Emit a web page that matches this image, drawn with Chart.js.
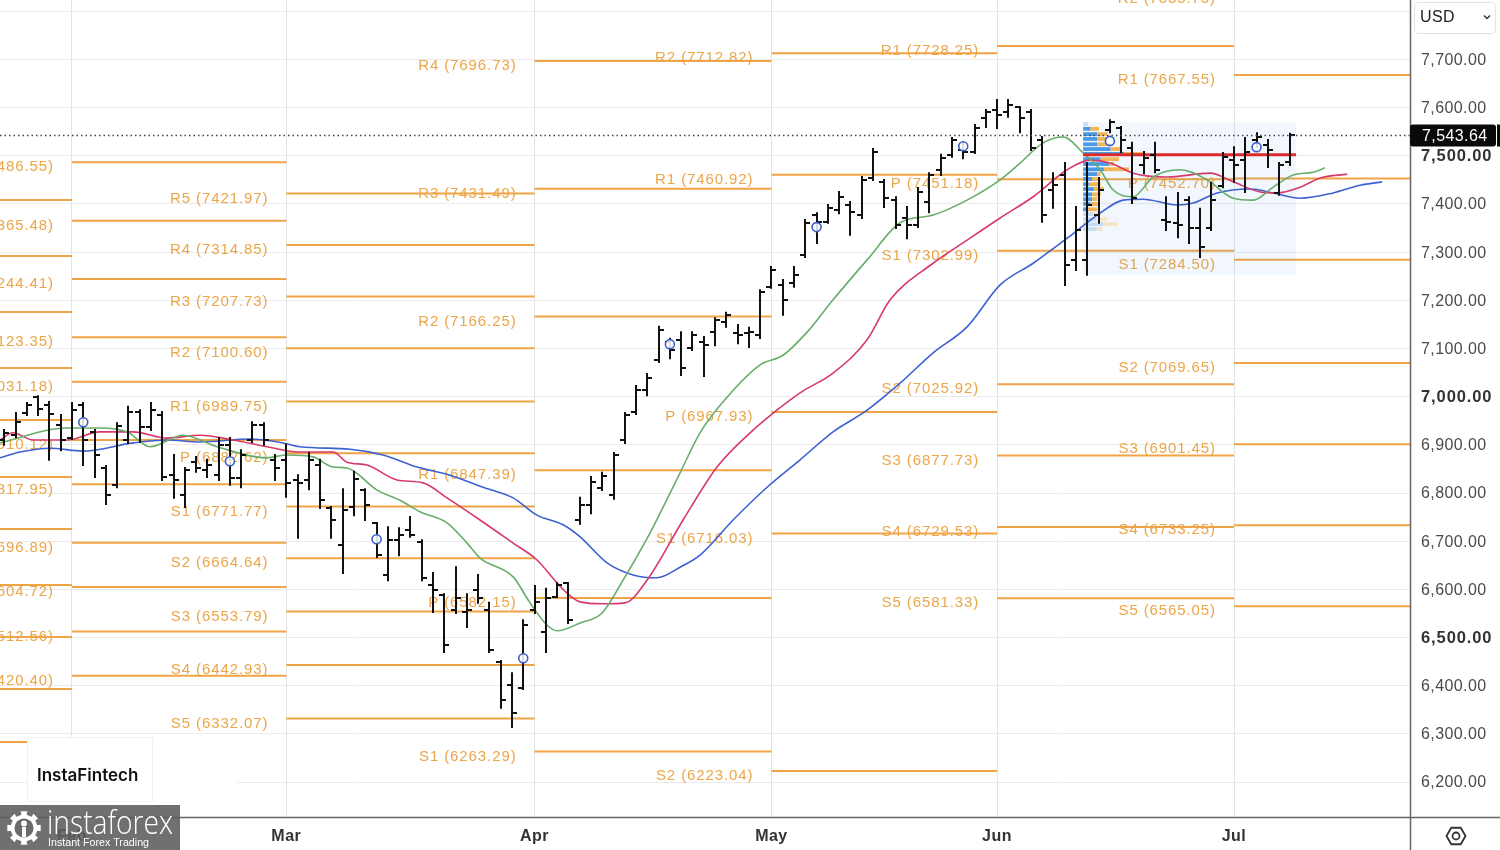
<!DOCTYPE html>
<html>
<head>
<meta charset="utf-8">
<script src="https://cdn.jsdelivr.net/npm/chart.js@4.4.1/dist/chart.umd.min.js"></script>
<style>
  html, body { margin: 0; padding: 0; background: #fff; }
  #wrap { width: 1500px; height: 850px; }
</style>
</head>
<body>
<div id="wrap"><canvas id="priceChart" width="1500" height="850"></canvas></div>
<script>
'use strict';

// x values are trading-session indexes, 0 = first session of February
const xMin = -6.38;
const xMax = 118.6;
const yMin = 6127.4;
const yMax = 7823.5;
const priceTicks = [6200, 6300, 6400, 6500, 6600, 6700, 6800, 6900, 7000, 7100, 7200, 7300, 7400, 7500, 7600, 7700, 7800];

const monthStarts = [-20, 0, 19, 41, 62, 82, 103, 125];
const monthNames = ['Jan', 'Feb', 'Mar', 'Apr', 'May', 'Jun', 'Jul', 'Aug'];

// monthly pivot levels, one table per month block
const pivJan = [['R5', 7408.30], ['R4', 7292.00], ['R3', 7175.80], ['R2', 7059.50], ['R1', 6951.60], ['P', 6833.30],
  ['S1', 6725.30], ['S2', 6609.00], ['S3', 6501.00], ['S4', 6393.00], ['S5', 6283.00]];
const pivFeb = [['R5', 7486.55], ['R4', 7365.48], ['R3', 7244.41], ['R2', 7123.35], ['R1', 7031.18], ['P', 6910.12],
  ['S1', 6817.95], ['S2', 6696.89], ['S3', 6604.72], ['S4', 6512.56], ['S5', 6420.40]];
const pivMar = [['R5', 7421.97], ['R4', 7314.85], ['R3', 7207.73], ['R2', 7100.60], ['R1', 6989.75], ['P', 6882.62],
  ['S1', 6771.77], ['S2', 6664.64], ['S3', 6553.79], ['S4', 6442.93], ['S5', 6332.07]];
const pivApr = [['R4', 7696.73], ['R3', 7431.49], ['R2', 7166.25], ['R1', 6847.39], ['P', 6582.15], ['S1', 6263.29]];
const pivMay = [['R2', 7712.82], ['R1', 7460.92], ['P', 6967.93], ['S1', 6716.03], ['S2', 6223.04]];
const pivJun = [['R1', 7728.25], ['P', 7451.18], ['S1', 7302.99], ['S2', 7025.92], ['S3', 6877.73], ['S4', 6729.53], ['S5', 6581.33]];
const pivJul = [['R2', 7835.75], ['R1', 7667.55], ['P', 7452.70], ['S1', 7284.50], ['S2', 7069.65], ['S3', 6901.45],
  ['S4', 6733.25], ['S5', 6565.05]];
const pivotTables = [pivJan, pivFeb, pivMar, pivApr, pivMay, pivJun, pivJul];

// daily OHLC, first bar at index barFirst
const barFirst = -6;
const barOpen = [6910, 6920, 6966, 6999, 6983, 6941, 6914, 6983, 6927, 6852, 6817, 6910, 6968, 6937, 6962, 6837, 6796, 6864,
  6848, 6837, 6900, 6831, 6910, 6941, 6869, 6869, 6827, 6827, 6858, 6769, 6692, 6771, 6806, 6738, 6630, 6702, 6723, 6698,
  6609, 6588, 6557, 6553, 6599, 6557, 6449, 6401, 6395, 6557, 6511, 6584, 6613, 6744, 6775, 6810, 6796, 6910, 6968, 7014,
  7076, 7114, 7118, 7101, 7114, 7134, 7155, 7132, 7132, 7128, 7228, 7232, 7236, 7294, 7377, 7363, 7387, 7398, 7377, 7454,
  7446, 7408, 7371, 7356, 7404, 7471, 7502, 7512, 7508, 7579, 7595, 7591, 7601, 7591, 7533, 7429, 7460, 7284, 7284, 7377,
  7554, 7558, 7516, 7481, 7502, 7367, 7361, 7408, 7350, 7350, 7437, 7491, 7491, 7533, 7522, 7423, 7487];
const barHigh = [6931, 6966, 6987, 7001, 6989, 6962, 6987, 6987, 6931, 6856, 6945, 6979, 6972, 6987, 6968, 6879, 6852, 6875,
  6869, 6914, 6914, 6889, 6947, 6945, 6879, 6900, 6837, 6883, 6869, 6771, 6808, 6844, 6808, 6738, 6729, 6727, 6750, 6702,
  6634, 6590, 6646, 6590, 6630, 6572, 6451, 6426, 6536, 6607, 6601, 6613, 6613, 6790, 6833, 6842, 6883, 6966, 7022, 7047,
  7145, 7120, 7134, 7134, 7124, 7163, 7174, 7149, 7143, 7221, 7269, 7242, 7269, 7367, 7381, 7398, 7425, 7404, 7456, 7514,
  7450, 7414, 7394, 7433, 7464, 7502, 7537, 7527, 7564, 7595, 7616, 7616, 7601, 7595, 7539, 7464, 7485, 7394, 7485, 7454,
  7574, 7560, 7527, 7508, 7527, 7414, 7423, 7414, 7390, 7444, 7506, 7518, 7537, 7547, 7533, 7485, 7546];
const barLow = [6900, 6916, 6962, 6962, 6869, 6889, 6912, 6858, 6833, 6777, 6812, 6904, 6906, 6931, 6827, 6790, 6771, 6844,
  6833, 6827, 6817, 6812, 6906, 6900, 6827, 6792, 6707, 6808, 6769, 6707, 6634, 6754, 6744, 6667, 6619, 6671, 6709, 6619,
  6553, 6470, 6551, 6522, 6572, 6470, 6354, 6314, 6393, 6551, 6470, 6584, 6530, 6736, 6758, 6806, 6788, 6904, 6964, 7003,
  7072, 7080, 7045, 7097, 7043, 7107, 7145, 7111, 7103, 7122, 7226, 7170, 7228, 7290, 7319, 7361, 7381, 7336, 7371, 7450,
  7394, 7350, 7329, 7352, 7383, 7460, 7498, 7495, 7506, 7560, 7558, 7581, 7549, 7512, 7363, 7392, 7232, 7263, 7253, 7361,
  7549, 7508, 7402, 7464, 7466, 7346, 7331, 7319, 7290, 7346, 7435, 7446, 7425, 7518, 7477, 7419, 7481];
const barClose = [6925, 6947, 6983, 6974, 6964, 6910, 6972, 6910, 6879, 6796, 6939, 6968, 6937, 6972, 6833, 6827, 6848, 6852,
  6858, 6900, 6831, 6879, 6941, 6910, 6852, 6821, 6821, 6869, 6785, 6744, 6765, 6829, 6775, 6671, 6702, 6713, 6713, 6624,
  6599, 6484, 6582, 6557, 6582, 6474, 6370, 6343, 6526, 6574, 6582, 6609, 6536, 6775, 6823, 6835, 6879, 6962, 7014, 7039,
  7138, 7097, 7060, 7128, 7107, 7159, 7170, 7128, 7134, 7217, 7263, 7201, 7253, 7361, 7363, 7392, 7415, 7383, 7450, 7508,
  7412, 7356, 7356, 7425, 7460, 7495, 7533, 7508, 7558, 7591, 7585, 7605, 7579, 7516, 7377, 7439, 7273, 7346, 7398, 7429,
  7570, 7533, 7412, 7495, 7470, 7363, 7356, 7350, 7311, 7408, 7497, 7481, 7508, 7539, 7512, 7481, 7543.64];
const lastPrice = 7543.64;

// alligator lines: [index, price]
const jawLine = [[-6.38, 6873], [-4.61, 6885], [-1.95, 6893], [0.98, 6887], [5.41, 6904], [8.42, 6910], [11.35, 6906],
  [15.78, 6912], [18.71, 6904], [20.21, 6896], [24.65, 6891], [27.57, 6879], [30.59, 6854], [33.51, 6837], [36.44, 6812],
  [39.1, 6790], [41.22, 6754], [43.53, 6734], [45.04, 6709], [47.43, 6655], [49.73, 6630], [51.86, 6624], [53.9, 6646],
  [55.67, 6671], [58.6, 6744], [61.61, 6812], [64.54, 6869], [67.46, 6927], [70.48, 6972], [73.4, 7028], [76.33, 7091],
  [79.34, 7145], [82.27, 7232], [85.2, 7277], [88.21, 7329], [91.13, 7381], [93.17, 7408], [94.95, 7410], [97.96, 7398],
  [99.38, 7402], [101.51, 7423], [104.43, 7431], [106.47, 7423], [108.87, 7412], [111.79, 7423], [114.18, 7439], [116.13, 7446]];
const teethLine = [[-6.38, 6910], [-5.23, 6925], [-3.46, 6910], [-0.44, 6910], [2.48, 6927], [5.41, 6927], [8.42, 6914],
  [11.35, 6920], [14.27, 6910], [17.29, 6896], [20.21, 6885], [23.14, 6885], [24.38, 6864], [26.15, 6858], [28.81, 6827],
  [31.12, 6821], [33.24, 6790], [36.17, 6744], [39.1, 6696], [41.22, 6661], [43.0, 6613], [43.88, 6592], [45.04, 6574],
  [47.07, 6570], [49.02, 6572], [50.97, 6619], [54.17, 6744], [57.18, 6854], [60.11, 6925], [62.15, 6966], [64.54, 7008],
  [67.46, 7049], [70.48, 7118], [72.52, 7201], [76.33, 7277], [79.34, 7325], [82.27, 7371], [85.2, 7415], [88.21, 7471],
  [90.25, 7491], [92.02, 7485], [94.06, 7464], [97.07, 7456], [100.89, 7464], [102.93, 7446], [105.32, 7425], [106.83, 7423],
  [108.87, 7435], [110.64, 7454], [113.03, 7462]];
const lipsLine = [[-6.38, 6904], [-0.44, 6935], [2.48, 6935], [4.88, 6927], [6.91, 6896], [9.84, 6920], [12.85, 6896],
  [17.29, 6873], [19.06, 6879], [21.37, 6875], [23.14, 6854], [24.38, 6852], [27.04, 6806], [29.08, 6785], [30.85, 6761],
  [33.24, 6738], [35.02, 6696], [36.17, 6665], [39.1, 6626], [40.6, 6572], [42.1, 6526], [43.0, 6514], [45.04, 6530],
  [46.99, 6551], [48.85, 6619], [51.24, 6717], [53.9, 6842], [55.67, 6925], [58.07, 6999], [61.0, 7066], [63.03, 7086],
  [65.16, 7134], [67.46, 7201], [70.48, 7284], [73.4, 7361], [76.33, 7377], [79.34, 7408], [82.27, 7450], [84.04, 7485],
  [86.08, 7527], [87.85, 7539], [89.63, 7506], [91.13, 7471], [92.29, 7429], [94.06, 7415], [95.83, 7456], [98.23, 7471],
  [100.62, 7450], [102.93, 7412], [104.7, 7408], [106.47, 7435], [108.24, 7460], [110.02, 7466], [111.08, 7475]];

const markIdx = [1, 14, 27, 40, 53, 66, 79, 92, 105];
const markPrice = [6947, 6866, 6704, 6457, 7109, 7352, 7520, 7531, 7518];

// volume profile of the last range
const vpStart = 89.63;
const vpEnd = 108.5;
const vpBoxHigh = 7570;
const vpBoxLow = 7253;
const pocPrice = 7502;
const vpPrices = [7565, 7555, 7544, 7534, 7523, 7513, 7503, 7492, 7482, 7471, 7461, 7451, 7440, 7430, 7419, 7409, 7399,
  7388, 7378, 7367, 7357, 7347];
const vpBuy = [14, 22, 42, 42, 42, 82, 122, 52, 77, 62, 42, 27, 17, 32, 27, 27, 22, 14, 30, 40, 60, 40];
const vpSell = [0, 25, 30, 30, 40, 30, 60, 55, 15, 75, 10, 15, 35, 30, 25, 15, 25, 28, 22, 32, 42, 17];
const vpInArea = [0, 1, 1, 1, 1, 1, 1, 1, 1, 1, 1, 1, 1, 1, 1, 1, 1, 1, 0, 0, 0, 0];

const FONT = '"Liberation Sans", Arial, sans-serif';

function pivotSegments() {
    const pts = [];
    pivotTables.forEach(function(tbl, i) {
        tbl.forEach(function(lv) {
            pts.push({ x: monthStarts[i], y: lv[1] });
            pts.push({ x: monthStarts[i + 1], y: lv[1] });
            pts.push({ x: monthStarts[i + 1], y: null });
        });
    });
    return pts;
}

function toXY(list) {
    return list.map(p => ({ x: p[0], y: p[1] }));
}

function fmt(v) {
    return v.toLocaleString('en-US', { minimumFractionDigits: 2, maximumFractionDigits: 2 });
}

function drawBars(chart) {
    const { ctx, scales: { x, y } } = chart;
    ctx.save();
    ctx.strokeStyle = '#111';
    ctx.lineWidth = 2;
    for (let i = 0; i < barOpen.length; i++) {
        const px = Math.round(x.getPixelForValue(barFirst + i));
        ctx.beginPath();
        ctx.moveTo(px, y.getPixelForValue(barHigh[i]) - 1);
        ctx.lineTo(px, y.getPixelForValue(barLow[i]) + 1);
        const yo = Math.round(y.getPixelForValue(barOpen[i]));
        const yc = Math.round(y.getPixelForValue(barClose[i]));
        ctx.moveTo(px - 5, yo);
        ctx.lineTo(px, yo);
        ctx.moveTo(px, yc);
        ctx.lineTo(px + 5, yc);
        ctx.stroke();
    }
    ctx.restore();
}

function drawProfile(chart) {
    const { ctx, scales: { x, y } } = chart;
    const x0 = x.getPixelForValue(vpStart);
    const x1 = x.getPixelForValue(vpEnd);
    ctx.fillStyle = 'rgba(80, 150, 225, 0.08)';
    ctx.fillRect(x0, y.getPixelForValue(vpBoxHigh), x1 - x0, y.getPixelForValue(vpBoxLow) - y.getPixelForValue(vpBoxHigh));

    const maxVol = Math.max(...vpBuy.map((b, i) => b + vpSell[i]));
    const unit = (x.getPixelForValue(vpStart + 5.4) - x0) / maxVol;
    const half = (vpPrices[0] - vpPrices[1]) / 2;
    vpPrices.forEach(function(p, i) {
        const yt = y.getPixelForValue(p + half);
        const h = y.getPixelForValue(p - half) - yt - 1;
        const wb = vpBuy[i] * unit;
        const ws = vpSell[i] * unit;
        ctx.fillStyle = vpInArea[i] ? '#4b9ae6' : '#c6ddf3';
        ctx.fillRect(x0, yt, wb, h);
        ctx.fillStyle = vpInArea[i] ? '#f3b556' : '#f5e4c6';
        ctx.fillRect(x0 + wb, yt, ws, h);
    });
}

function drawPoc(chart) {
    const { ctx, scales: { x, y } } = chart;
    const yp = y.getPixelForValue(pocPrice);
    ctx.save();
    ctx.strokeStyle = '#dc2a2a';
    ctx.lineWidth = 3;
    ctx.beginPath();
    ctx.moveTo(x.getPixelForValue(vpStart), yp);
    ctx.lineTo(x.getPixelForValue(vpEnd), yp);
    ctx.stroke();
    ctx.restore();
}

function drawPivotLabels(chart) {
    const { ctx, scales: { x, y } } = chart;
    ctx.font = '15px ' + FONT;
    ctx.letterSpacing = '0.9px';
    ctx.fillStyle = '#eca547';
    ctx.textAlign = 'right';
    ctx.textBaseline = 'middle';
    pivotTables.forEach(function(tbl, i) {
        const px = x.getPixelForValue(monthStarts[i]) - 18;
        tbl.forEach(function(lv) {
            ctx.fillText(lv[0] + ' (' + lv[1].toFixed(2) + ')', px, y.getPixelForValue(lv[1]) + 5);
        });
    });
    ctx.letterSpacing = '0px';
}

function drawGear(ctx, cx, cy) {
    ctx.fillStyle = '#fff';
    ctx.beginPath();
    for (let i = 0; i < 16; i++) {
        const a = i * Math.PI / 8;
        const r = (i % 2 === 0) ? 17 : 13.5;
        const a1 = a - Math.PI / 16, a2 = a + Math.PI / 16;
        ctx.lineTo(cx + r * Math.cos(a1), cy + r * Math.sin(a1));
        ctx.lineTo(cx + r * Math.cos(a2), cy + r * Math.sin(a2));
    }
    ctx.closePath();
    ctx.fill();
    ctx.fillStyle = '#6a6a6a';
    ctx.beginPath();
    ctx.arc(cx, cy, 9.5, 0, Math.PI * 2);
    ctx.fill();
    ctx.fillStyle = '#fff';
    ctx.beginPath();
    ctx.arc(cx, cy - 4.5, 3, 0, Math.PI * 2);
    ctx.fill();
    ctx.fillRect(cx - 2, cy - 1, 4, 10);
}

const overlay = {
    id: 'overlay',
    afterDatasetDraw(chart, args) {
        if (args.index !== 0) return;
        const { ctx, chartArea: a } = chart;
        ctx.save();
        ctx.beginPath();
        ctx.rect(a.left, a.top, a.right - a.left, a.bottom - a.top);
        ctx.clip();
        drawPivotLabels(chart);
        drawProfile(chart);
        ctx.restore();
    },
    beforeDatasetDraw(chart, args) {
        if (args.index !== 4) return;
        drawPoc(chart);
        drawBars(chart);
    },
    afterDraw(chart) {
        const { ctx, chartArea: a, scales: { x, y } } = chart;
        ctx.save();

        // last price dotted line
        const yp = Math.round(y.getPixelForValue(lastPrice)) + 0.5;
        ctx.strokeStyle = '#444';
        ctx.lineWidth = 1.3;
        ctx.setLineDash([1.5, 3]);
        ctx.beginPath();
        ctx.moveTo(a.left, yp);
        ctx.lineTo(a.right, yp);
        ctx.stroke();
        ctx.setLineDash([]);

        // axis borders
        ctx.strokeStyle = '#666';
        ctx.lineWidth = 1.5;
        ctx.beginPath();
        ctx.moveTo(0, a.bottom + 0.5);
        ctx.lineTo(1500, a.bottom + 0.5);
        ctx.moveTo(a.right + 0.5, 0);
        ctx.lineTo(a.right + 0.5, 850);
        ctx.stroke();

        // price labels
        ctx.textAlign = 'left';
        ctx.textBaseline = 'middle';
        y.ticks.forEach(function(t) {
            const strong = t.value % 500 === 0;
            ctx.font = (strong ? 'bold 16.5px ' : '16px ') + FONT;
            ctx.letterSpacing = strong ? '0.9px' : '0.4px';
            ctx.fillStyle = strong ? '#333' : '#4a4a4a';
            ctx.fillText(fmt(t.value), a.right + 11, y.getPixelForValue(t.value) + 1);
        });

        // last price tag
        ctx.fillStyle = '#0a0a0a';
        ctx.beginPath();
        ctx.roundRect(a.right, yp - 11, 86, 22, 3);
        ctx.fill();
        ctx.fillRect(1497, yp - 11, 3, 22);
        ctx.fillStyle = '#fff';
        ctx.font = '16px ' + FONT;
        ctx.letterSpacing = '0.4px';
        ctx.fillText(fmt(lastPrice), a.right + 12, yp + 1);

        // currency selector
        ctx.fillStyle = '#fff';
        ctx.strokeStyle = '#e2e2e2';
        ctx.lineWidth = 1;
        ctx.beginPath();
        ctx.roundRect(1414.5, 2.5, 81, 31, 4);
        ctx.fill();
        ctx.stroke();
        ctx.fillStyle = '#222';
        ctx.font = '16px ' + FONT;
        ctx.fillText('USD', 1420, 18);
        ctx.strokeStyle = '#333';
        ctx.lineWidth = 1.5;
        ctx.beginPath();
        ctx.moveTo(1484, 15.5);
        ctx.lineTo(1487, 18.5);
        ctx.lineTo(1490, 15.5);
        ctx.stroke();

        // month labels
        ctx.textAlign = 'center';
        ctx.font = 'bold 16px ' + FONT;
        ctx.letterSpacing = '0.5px';
        ctx.fillStyle = '#333';
        monthStarts.forEach(function(v, i) {
            if (v < xMin || v > xMax) return;
            ctx.fillText(monthNames[i], x.getPixelForValue(v), 837);
        });
        ctx.letterSpacing = '0px';

        // settings icon
        ctx.strokeStyle = '#333';
        ctx.lineWidth = 1.8;
        ctx.beginPath();
        for (let i = 0; i < 6; i++) {
            const ang = i * Math.PI / 3;
            ctx.lineTo(1456 + 9.5 * Math.cos(ang), 836 + 9.5 * Math.sin(ang));
        }
        ctx.closePath();
        ctx.stroke();
        ctx.beginPath();
        ctx.arc(1456, 836, 3.5, 0, Math.PI * 2);
        ctx.stroke();

        // watermark
        ctx.fillStyle = '#fff';
        ctx.fillRect(27, 737, 210, 79);
        ctx.strokeStyle = '#f1f1f1';
        ctx.lineWidth = 1;
        ctx.strokeRect(27.5, 737.5, 125, 64);
        ctx.fillStyle = '#111';
        ctx.textAlign = 'left';
        ctx.font = '600 17px Inter, ' + FONT;
        ctx.fillText('InstaFintech', 37, 776, 104);

        ctx.fillStyle = 'rgba(92, 92, 92, 0.88)';
        ctx.fillRect(0, 805, 180, 45);
        drawGear(ctx, 24, 828);
        ctx.fillStyle = '#fff';
        ctx.textBaseline = 'alphabetic';
        ctx.font = '300 33px "Open Sans", ' + FONT;
        ctx.fillText('instaforex', 47, 834, 126);
        ctx.font = '11px ' + FONT;
        ctx.fillText('Instant Forex Trading', 48, 846, 101);

        ctx.restore();
    }
};

function initChart() {
    const canvas = document.getElementById('priceChart');
    return new Chart(canvas, {
        type: 'line',
        data: {
            datasets: [
                { label: 'pivots', data: pivotSegments(), borderColor: '#f0a445', borderWidth: 2, pointRadius: 0, spanGaps: false, order: 10 },
                { label: 'jaw', data: toXY(jawLine), borderColor: '#3c61d2', borderWidth: 1.6, pointRadius: 0, cubicInterpolationMode: 'monotone', order: 7 },
                { label: 'teeth', data: toXY(teethLine), borderColor: '#d8386a', borderWidth: 1.6, pointRadius: 0, cubicInterpolationMode: 'monotone', order: 6 },
                { label: 'lips', data: toXY(lipsLine), borderColor: '#68ad6b', borderWidth: 1.6, pointRadius: 0, cubicInterpolationMode: 'monotone', order: 5 },
                {
                    label: 'marks', type: 'scatter',
                    data: markIdx.map((k, i) => ({ x: k, y: markPrice[i] })),
                    pointRadius: 4.5, borderWidth: 1.6, borderColor: '#3d5ec9', backgroundColor: 'rgba(255,255,255,0.85)',
                    showLine: false, order: 1
                }
            ]
        },
        options: {
            responsive: false,
            animation: false,
            devicePixelRatio: 1,
            layout: { padding: 0, autoPadding: false },
            plugins: { legend: { display: false }, tooltip: { enabled: false } },
            scales: {
                x: {
                    type: 'linear', min: xMin, max: xMax,
                    afterFit: function(s) { s.height = 33; },
                    afterBuildTicks: function(s) {
                        s.ticks = monthStarts.filter(v => v >= xMin && v <= xMax).map(v => ({ value: v }));
                    },
                    ticks: { display: false },
                    grid: { color: '#e4e4e4', drawTicks: false },
                    border: { display: false }
                },
                y: {
                    position: 'right', min: yMin, max: yMax,
                    afterFit: function(s) { s.width = 90; },
                    afterBuildTicks: function(s) {
                        s.ticks = priceTicks.map(v => ({ value: v }));
                    },
                    ticks: { display: false },
                    grid: { color: '#ebebeb', drawTicks: false },
                    border: { display: false }
                }
            }
        },
        plugins: [overlay]
    });
}

initChart();
</script>
</body>
</html>
